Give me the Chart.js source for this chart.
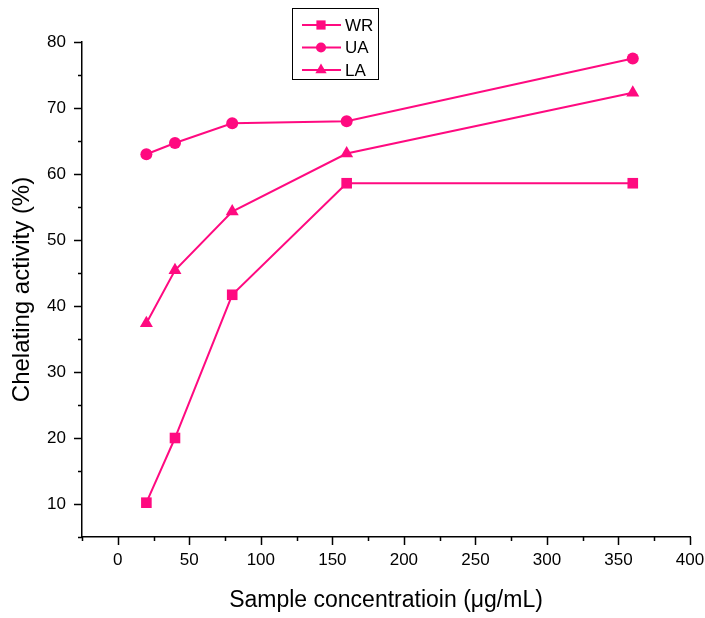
<!DOCTYPE html>
<html>
<head>
<meta charset="utf-8">
<script src="https://cdn.jsdelivr.net/npm/chart.js@4.4.0/dist/chart.umd.min.js"></script>
<style>
  html, body { margin: 0; padding: 0; background: #fff; }
  #wrap { width: 705px; height: 618px; position: relative; }
</style>
</head>
<body>
<div id="wrap"><canvas id="chart"></canvas></div>
<script>
// data
var concentrations = [20, 40, 80, 160, 360];
var wrValues = [10.2, 20.0, 41.7, 58.6, 58.6];
var uaValues = [63.0, 64.7, 67.7, 68.0, 77.5];
var laValues = [37.4, 45.4, 54.3, 63.1, 72.3];
var seriesNames = ['WR', 'UA', 'LA'];
var xTickLabels = [0, 50, 100, 150, 200, 250, 300, 350, 400];
var yTickLabels = [10, 20, 30, 40, 50, 60, 70, 80];

var PINK = '#ff0a80';
var FONT = 'Arial, "Liberation Sans", sans-serif';

function toPoints(values) {
  return concentrations.map(function (c, i) { return { x: c, y: values[i] }; });
}

function makeSeries(label, values, style) {
  return {
    label: label,
    data: toPoints(values),
    showLine: true,
    borderColor: PINK,
    backgroundColor: PINK,
    borderWidth: 2,
    pointStyle: style,
    pointRadius: style === 'circle' ? 6 : 7.5,
    pointBorderWidth: 0,
    tension: 0,
  };
}

function drawMarker(ctx, style, x, y, r) {
  ctx.beginPath();
  if (style === 'rect') {
    var s = r * Math.SQRT1_2;
    ctx.rect(x - s, y - s, 2 * s, 2 * s);
  } else if (style === 'triangle') {
    ctx.moveTo(x, y - r);
    ctx.lineTo(x + r * Math.sin(Math.PI / 3), y + r / 2);
    ctx.lineTo(x - r * Math.sin(Math.PI / 3), y + r / 2);
    ctx.closePath();
  } else {
    ctx.arc(x, y, r, 0, Math.PI * 2);
  }
  ctx.fill();
}

// major/minor tick marks drawn outside the axes
var axisTicks = {
  id: 'axisTicks',
  afterDraw: function (chart) {
    var ctx = chart.ctx;
    var area = chart.chartArea;
    var xs = chart.scales.x;
    var ys = chart.scales.y;
    ctx.save();
    ctx.strokeStyle = '#000';
    ctx.lineWidth = 1.5;
    ctx.beginPath();
    xs.ticks.forEach(function (t) {
      var px = Math.round(xs.getPixelForValue(t.value)) + 0.5;
      var len = xTickLabels.indexOf(t.value) >= 0 ? 8 : 4;
      ctx.moveTo(px, area.bottom);
      ctx.lineTo(px, area.bottom + len);
    });
    ys.ticks.forEach(function (t) {
      var py = Math.round(ys.getPixelForValue(t.value)) + 0.5;
      var len = yTickLabels.indexOf(t.value) >= 0 ? 8 : 4;
      ctx.moveTo(area.left, py);
      ctx.lineTo(area.left - len, py);
    });
    ctx.stroke();
    ctx.restore();
  },
};

// boxed legend in the upper middle
var boxLegend = {
  id: 'boxLegend',
  afterDraw: function (chart) {
    var ctx = chart.ctx;
    ctx.save();
    ctx.strokeStyle = '#000';
    ctx.lineWidth = 1;
    ctx.strokeRect(292.5, 8.5, 86, 71);
    ctx.font = '17px ' + FONT;
    ctx.textBaseline = 'middle';
    ctx.textAlign = 'left';
    chart.data.datasets.forEach(function (ds, i) {
      var y = 25 + i * 22.5;
      ctx.strokeStyle = ds.borderColor;
      ctx.lineWidth = 2;
      ctx.beginPath();
      ctx.moveTo(302, y);
      ctx.lineTo(341, y);
      ctx.stroke();
      ctx.fillStyle = ds.backgroundColor;
      drawMarker(ctx, ds.pointStyle, 321, y, ds.pointStyle === 'circle' ? 5 : 6.5);
      ctx.fillStyle = '#000';
      ctx.fillText(ds.label, 345, y + 1);
    });
    ctx.restore();
  },
};

new Chart(document.getElementById('chart'), {
  type: 'scatter',
  data: {
    datasets: [
      makeSeries(seriesNames[0], wrValues, 'rect'),
      makeSeries(seriesNames[1], uaValues, 'circle'),
      makeSeries(seriesNames[2], laValues, 'triangle'),
    ],
  },
  options: {
    responsive: true,
    maintainAspectRatio: false,
    animation: false,
    layout: { padding: { left: 0, top: 42, right: 15, bottom: 0 } },
    plugins: {
      legend: { display: false },
      tooltip: { enabled: false },
    },
    scales: {
      x: {
        type: 'linear',
        min: -25,
        max: 400,
        afterFit: function (scale) {
          scale.height = 81;
          scale.paddingLeft = 0;
          scale.paddingRight = 0;
        },
        ticks: {
          stepSize: 25,
          padding: 13,
          color: '#000',
          font: { family: FONT, size: 17 },
          maxRotation: 0,
          autoSkip: false,
          callback: function (v) { return xTickLabels.indexOf(v) >= 0 ? String(v) : ''; },
        },
        grid: { display: true, drawOnChartArea: false, drawTicks: false },
        border: { display: true, color: '#000', width: 1.5 },
        title: {
          display: true,
          text: 'Sample concentratioin (\u03bcg/mL)',
          color: '#000',
          font: { family: FONT, size: 23 },
          padding: { top: 0, bottom: 4 },
        },
      },
      y: {
        type: 'linear',
        min: 5,
        max: 80,
        afterFit: function (scale) {
          scale.width = 82;
          scale.paddingTop = 0;
          scale.paddingBottom = 0;
        },
        ticks: {
          stepSize: 5,
          padding: 16,
          color: '#000',
          font: { family: FONT, size: 17 },
          autoSkip: false,
          callback: function (v) { return yTickLabels.indexOf(v) >= 0 ? String(v) : ''; },
        },
        grid: { display: true, drawOnChartArea: false, drawTicks: false },
        border: { display: true, color: '#000', width: 1.5 },
        title: {
          display: true,
          text: 'Chelating activity (%)',
          color: '#000',
          font: { family: FONT, size: 24 },
          padding: { top: 8, bottom: 0 },
        },
      },
    },
  },
  plugins: [axisTicks, boxLegend],
});
</script>
</body>
</html>
